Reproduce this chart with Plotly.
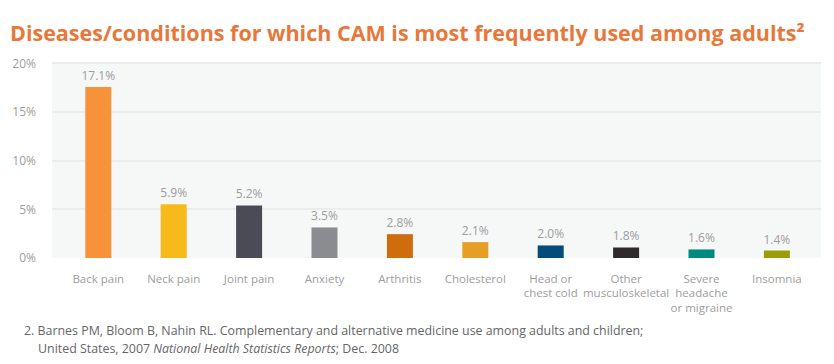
import plotly.graph_objects as go

categories = ["Back pain", "Neck pain", "Joint pain", "Anxiety", "Arthritis", "Cholesterol",
              "Head or<br>chest cold", "Other<br>musculoskeletal", "Severe<br>headache<br>or migraine", "Insomnia"]
bar_values = [17.58, 5.52, 5.41, 3.14, 2.45, 1.63, 1.29, 1.08, 0.88, 0.77]
value_labels = ["17.1%", "5.9%", "5.2%", "3.5%", "2.8%", "2.1%", "2.0%", "1.8%", "1.6%", "1.4%"]
bar_colors = ["#F7923A", "#F6BA1A", "#4A4B55", "#8A8C90", "#CF6C0E", "#E59F25",
              "#034C7A", "#2F2B2C", "#008A80", "#9B9D06"]
y_ticks = [0, 5, 10, 15, 20]
y_tick_labels = ["0%", "5%", "10%", "15%", "20%"]

W, H = 834, 364
fig = go.Figure()
fig.add_trace(go.Bar(
    x=list(range(len(categories))), y=bar_values,
    marker=dict(color=bar_colors, line=dict(width=0)),
    width=0.345,
    text=value_labels, textposition="outside", constraintext="none",
    textfont=dict(family="Open Sans", size=12, color="#9d9d9d"),
    cliponaxis=False, hoverinfo="skip",
))

fig.update_layout(
    width=W, height=H,
    margin=dict(l=52, r=13, t=62, b=106),
    paper_bgcolor="white", plot_bgcolor="#F6F7F7",
    showlegend=False,
    font=dict(family="Open Sans", color="#9d9d9d"),
    title=dict(text="Diseases/conditions for which CAM is most frequently used among adults²",
               x=10 / W, xanchor="left", xref="container",
               y=1 - 33 / H, yanchor="middle", yref="container",
               font=dict(family="Open Sans", size=21.5, color="#E8773A", weight="bold")),
    xaxis=dict(
        tickmode="array", tickvals=list(range(len(categories))), ticktext=categories,
        range=[-0.614, 9.585], showgrid=False, zeroline=False, showline=False,
        ticks="", ticklabelstandoff=12, tickangle=0,
        tickfont=dict(family="Open Sans", size=11.5, color="#9d9d9d"),
    ),
    yaxis=dict(
        range=[0, 20.15], tickmode="array", tickvals=y_ticks, ticktext=y_tick_labels,
        showgrid=True, gridcolor="#EBECEC", gridwidth=1.5, zeroline=False, showline=False,
        ticks="", ticklabelstandoff=15,
        tickfont=dict(family="Open Sans", size=12, color="#9d9d9d"),
    ),
    bargap=0.6,
)

fig.add_annotation(text="2. Barnes PM, Bloom B, Nahin RL. Complementary and alternative medicine use among adults and children;",
                   xref="paper", yref="paper", x=(22 - 52) / (W - 65), y=-(330 - 257.7) / 195.7,
                   xanchor="left", yanchor="middle", showarrow=False,
                   font=dict(family="Open Sans", size=12.4, color="#666666"))
fig.add_annotation(text="United States, 2007 <i>National Health Statistics Reports</i>; Dec. 2008",
                   xref="paper", yref="paper", x=(36 - 52) / (W - 65), y=-(348 - 257.7) / 195.7,
                   xanchor="left", yanchor="middle", showarrow=False,
                   font=dict(family="Open Sans", size=12.4, color="#666666"))

fig.write_html("out.html", config={"displayModeBar": False},
               post_script="document.body.style.margin='0';")
